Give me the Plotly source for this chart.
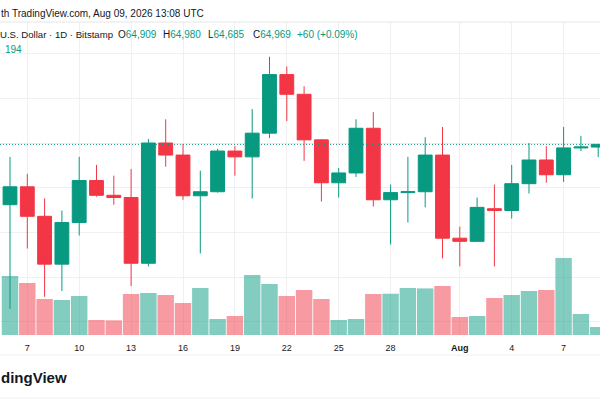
import plotly.graph_objs as go
import pandas as pd

# Daily candles BTC / USD (Bitstamp), Jul 6 - Aug 9 2026
dates = pd.date_range('2026-07-06', '2026-08-09', freq='D')
opens = [63620, 64020, 63360, 62290, 63220, 64160, 63830, 63780, 62310, 65000,
         64730, 63820, 63910, 64820, 64690, 65220, 66530, 66090, 65070, 64110,
         64330, 65330, 63730, 63890, 63910, 64730, 62870, 62800, 63530, 63490,
         64090, 64620, 64290, 64890, 64909]
highs = [64690, 64310, 63760, 63490, 64690, 64510, 64270, 64420, 65090, 65530,
         64980, 64380, 64870, 64930, 65760, 66930, 66710, 66270, 65080, 64440,
         65530, 65690, 64070, 64690, 65130, 65360, 63130, 63780, 64070, 64510,
         65000, 64930, 65360, 65160, 64980]
lows = [61290, 62640, 61560, 61690, 62930, 63800, 63620, 61800, 62240, 64470,
        63730, 62530, 63890, 64270, 63760, 65110, 65490, 64600, 63690, 63780,
        64240, 63580, 62730, 63220, 63560, 62420, 62240, 62790, 62240, 63310,
        63870, 64110, 64130, 64820, 64685]
closes = [64020, 63360, 62290, 63220, 64160, 63830, 63780, 62310, 65000, 64730,
          63820, 63910, 64820, 64690, 65220, 66530, 66090, 65070, 64110, 64330,
          65330, 63730, 63890, 63910, 64730, 62870, 62800, 63560, 63490, 64090,
          64620, 64290, 64890, 64910, 64969]
volumes = [1431, 1261, 873, 849, 946, 364, 356, 994, 1019, 970,
           776, 1140, 388, 461, 1455, 1237, 946, 1091, 873, 364,
           388, 994, 1000, 1140, 1130, 1188, 437, 461, 897, 970,
           1067, 1091, 1867, 509, 194]

# Time axis labels
tick_dates = ['2026-07-07', '2026-07-10', '2026-07-13', '2026-07-16', '2026-07-19',
              '2026-07-22', '2026-07-25', '2026-07-28', '2026-08-01', '2026-08-04',
              '2026-08-07']
tick_labels = ['7', '10', '13', '16', '19', '22', '25', '28', '<b>Aug</b>', '4', '7']

UP = '#089981'
DOWN = '#F23645'
TEXT = '#131722'
GRID = '#f0f0f0'

# Page / pane geometry in pixels
W, H = 600, 400
TOP, BOTTOM = 22, 335


def px(x):
    return x / W


def py(y):
    return (BOTTOM - y) / (BOTTOM - TOP)


# Visible time window: ~17.3 px per day, first candle 10 px from the left
day_px = 17.3
x0 = dates[0] - pd.Timedelta(days=10 / day_px)
x1 = x0 + pd.Timedelta(days=W / day_px)

# Price scale: 65,000 is 121 px under the pane top, 44.7 px per 1,000
ppx = 44.7 / 1000
y_top = 65000 + (143 - TOP) / ppx
y_bot = 65000 - (BOTTOM - 143) / ppx

# Volume takes the bottom quarter of the pane
vol_top = max(volumes) * (BOTTOM - TOP) / 77

vol_colors = ['rgba(8,153,129,0.5)' if c >= o else 'rgba(242,54,69,0.5)'
              for o, c in zip(opens, closes)]

fig = go.Figure()

# Volume bars (drawn below the candles)
fig.add_trace(go.Bar(x=dates, y=volumes, yaxis='y',
                     marker=dict(color=vol_colors, line=dict(width=0)),
                     hoverinfo='skip'))

# Candles
fig.add_trace(go.Candlestick(x=dates, open=opens, high=highs, low=lows, close=closes,
                             yaxis='y2', whiskerwidth=0, hoverinfo='skip',
                             increasing=dict(line=dict(color=UP, width=1), fillcolor=UP),
                             decreasing=dict(line=dict(color=DOWN, width=1), fillcolor=DOWN)))

# Legend texts built from the last candle
o, h, l, c = opens[-1], highs[-1], lows[-1], closes[-1]
chg = c - o
pct = chg / o * 100


def val(v):
    return '<span style="color:%s">%s</span>' % (UP, v)


FS = 10
notes = [
    (-1, 14, 'th TradingView.com, Aug 09, 2026 13:08 UTC', TEXT, FS),
    (-2, 35, 'U.S. Dollar · 1D · Bitstamp', TEXT, 9.6),
    (116, 35, 'O' + val(f'{o:,}'), TEXT, FS),
    (161, 35, 'H' + val(f'{h:,}'), TEXT, FS),
    (206, 35, 'L' + val(f'{l:,}'), TEXT, FS),
    (251, 35, 'C' + val(f'{c:,}'), TEXT, FS),
    (295, 35, f'{chg:+,} ({pct:+.2f}%)', UP, FS),
    (3, 49, f'{volumes[-1]:,}', UP, FS),
    (-1, 377, '<b>dingView</b>', TEXT, 15),
]
annotations = [dict(x=px(x), y=py(y), xref='paper', yref='paper', text=t,
                    showarrow=False, xanchor='left', yanchor='middle',
                    font=dict(size=s, color=col))
               for x, y, t, col, s in notes]

# Pane border, separators and the last price line
shapes = [
    dict(type='line', xref='paper', yref='paper', x0=0, x1=1, y0=py(TOP), y1=py(TOP),
         line=dict(color='#e6e6e6', width=1)),
    dict(type='line', xref='paper', yref='paper', x0=0, x1=1, y0=py(355), y1=py(355),
         line=dict(color='#f0f0f0', width=1)),
    dict(type='line', xref='paper', yref='paper', x0=0, x1=1, y0=py(398), y1=py(398),
         line=dict(color='#f0f0f0', width=1)),
    dict(type='line', xref='paper', yref='y2', x0=0, x1=1, y0=c, y1=c,
         line=dict(color=UP, width=1, dash='1px,2px')),
]

fig.update_layout(
    width=W, height=H,
    margin=dict(l=0, r=0, t=TOP, b=H - BOTTOM),
    paper_bgcolor='white', plot_bgcolor='white',
    showlegend=False,
    bargap=0.05, boxgap=0.2, boxgroupgap=0,
    font=dict(family='Liberation Sans, Arial, sans-serif', color=TEXT),
    xaxis=dict(type='date', range=[x0, x1], tickvals=tick_dates, ticktext=tick_labels,
               showgrid=True, gridcolor=GRID, ticks='', tickfont=dict(size=9, color=TEXT),
               ticklabelstandoff=6,
               rangeslider=dict(visible=False), showline=False, zeroline=False),
    yaxis=dict(range=[0, vol_top], showgrid=False, showticklabels=False, zeroline=False),
    yaxis2=dict(range=[y_bot, y_top], overlaying='y', dtick=1000, showgrid=True,
                gridcolor=GRID, showticklabels=False, zeroline=False),
    annotations=annotations,
    shapes=shapes,
)

fig.write_html('out.html', config={'displayModeBar': False},
               post_script="document.body.style.margin='0';")
